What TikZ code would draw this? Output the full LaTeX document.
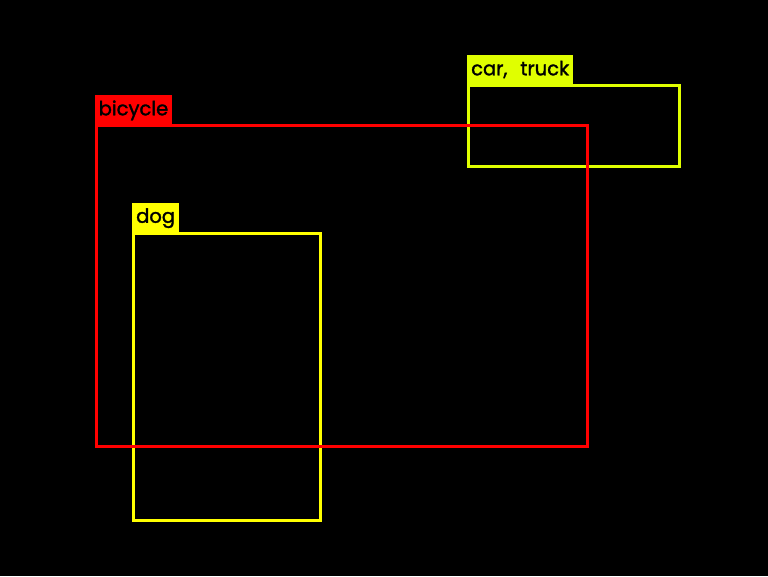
\documentclass[tikz,border=0pt]{standalone}
\usepackage{fontspec}
\setmainfont[FakeBold=1.6,WordSpace=2.5]{Poppins}
\usepackage{xcolor}
\usetikzlibrary{positioning}
\definecolor{bikered}{RGB}{255,0,0}
\definecolor{dogyellow}{RGB}{255,255,0}
\definecolor{caryellow}{RGB}{224,255,0}
\tikzset{
    detbox/.style={
        rectangle,
        draw=#1,
        line width=3pt
    },
    tag/.style={
        rectangle,
        fill=#1,
        anchor=south west,
        inner xsep=4pt,
        inner ysep=5pt,
        text height=15pt,
        text depth=5pt,
        font=\fontsize{19.5}{22}\selectfont,
        text=black
    }
}
\begin{document}
\begin{tikzpicture}[x=1pt,y=-1pt]
\fill[black] (0,0) rectangle (768,576);
\useasboundingbox (0,0) rectangle (768,576);

\coordinate (dogNW) at (133.5,233);
\coordinate (dogSE) at (320.5,520.5);
\coordinate (carNW) at (468.5,85.5);
\coordinate (carSE) at (679.5,166);
\coordinate (bikeNW) at (96,125.5);
\coordinate (bikeSE) at (587.5,446);

% detections
\draw[detbox=dogyellow] (dogNW) rectangle (dogSE);
\node[tag=dogyellow] (doglabel) at ([xshift=-1.5pt]dogNW) {dog};

\draw[detbox=caryellow] (carNW) rectangle (carSE);
\node[tag=caryellow] (carlabel) at ([xshift=-1.5pt]carNW) {car, truck};

\draw[detbox=bikered] (bikeNW) rectangle (bikeSE);
\node[tag=bikered] (bikelabel) at ([xshift=-1.5pt]bikeNW) {bicycle};

\end{tikzpicture}
\end{document}
